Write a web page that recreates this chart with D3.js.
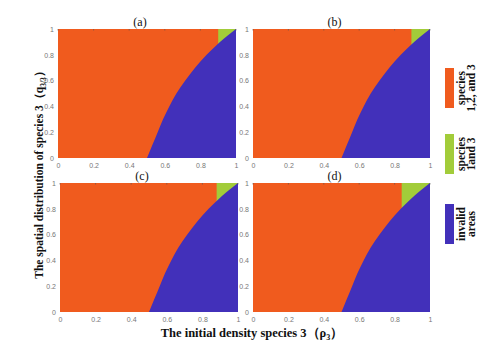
<!DOCTYPE html>
<html>
<head>
<meta charset="utf-8">
<script src="https://cdn.jsdelivr.net/npm/d3@7"></script>
<style>
  body { margin: 0; background: #fff; }
  svg { display: block; }
</style>
</head>
<body>
<div id="chart"></div>
<script>
// boundary between "species 1,2 and 3" and "invalid areas", read at q = 0, 0.1 ... 1
const boundaryQ = [0, 0.1, 0.2, 0.3, 0.4, 0.5, 0.6, 0.7, 0.8, 0.9, 1.0];
const boundaryRho = [0.50, 0.53, 0.56, 0.59, 0.625, 0.665, 0.715, 0.77, 0.835, 0.91, 1.0];

const panelNames = ["(a)", "(b)", "(c)", "(d)"];
// rho where the green "species 1 and 3" area starts in each panel
const greenStart = [0.90, 0.895, 0.88, 0.84];

const tickValues = [0, 0.2, 0.4, 0.6, 0.8, 1];
const legendLines = [["species", "1,2, and 3"], ["species", "1and 3"], ["invalid", "areas"]];

const colors = ["#F05B1E", "#A2CC3A", "#4230BA"];

const width = 497;
const height = 349;

// panel boxes
const panels = [
    { left: 58, right: 236, top: 29, bottom: 158 },
    { left: 253, right: 430, top: 29, bottom: 158 },
    { left: 60, right: 238, top: 183, bottom: 312 },
    { left: 253, right: 430, top: 183, bottom: 312 }
];

const svg = d3.select("#chart")
    .append("svg")
    .attr("width", width)
    .attr("height", height);

const boundary = boundaryQ.map((q, i) => ({ q: q, rho: boundaryRho[i] }));

panels.forEach((p, i) => {
    const x = d3.scaleLinear().domain([0, 1]).range([p.left, p.right]);
    const y = d3.scaleLinear().domain([0, 1]).range([p.bottom, p.top]);

    const g = svg.append("g");

    g.append("rect")
        .attr("x", x(0))
        .attr("y", y(1))
        .attr("width", x(1) - x(0))
        .attr("height", y(0) - y(1))
        .attr("fill", colors[0]);

    g.append("rect")
        .attr("x", x(greenStart[i]))
        .attr("y", y(1))
        .attr("width", x(1) - x(greenStart[i]))
        .attr("height", y(0) - y(1))
        .attr("fill", colors[1]);

    const area = d3.area()
        .y(d => y(d.q))
        .x0(d => x(d.rho))
        .x1(x(1))
        .curve(d3.curveMonotoneY);

    g.append("path")
        .datum(boundary)
        .attr("d", area)
        .attr("fill", colors[2]);

    const xAxis = g.append("g")
        .attr("transform", `translate(0, ${p.bottom})`)
        .call(d3.axisBottom(x).tickValues(tickValues).tickFormat(d3.format("~g")).tickSize(0).tickPadding(5));

    const yAxis = g.append("g")
        .attr("transform", `translate(${p.left}, 0)`)
        .call(d3.axisLeft(y).tickValues(tickValues).tickFormat(d3.format("~g")).tickSize(0).tickPadding(4));

    [xAxis, yAxis].forEach(a => {
        a.select(".domain").remove();
        a.selectAll("text")
            .attr("fill", "#777")
            .attr("font-size", "7px")
            .attr("font-family", "Liberation Sans, Arial, sans-serif");
    });

    // small inward tick marks along the top edge
    g.selectAll(".topTick")
        .data(tickValues)
        .enter()
        .append("line")
        .attr("x1", d => x(d))
        .attr("x2", d => x(d))
        .attr("y1", p.top)
        .attr("y2", p.top + 1.5)
        .attr("stroke", "#555")
        .attr("stroke-width", 0.6);

    g.append("text")
        .attr("x", (p.left + p.right) / 2 - 7)
        .attr("y", p.top - 3)
        .attr("text-anchor", "middle")
        .attr("font-family", "Liberation Serif, Times New Roman, serif")
        .attr("font-size", "12px")
        .attr("fill", "#111")
        .text(panelNames[i]);
});

// axis titles
svg.append("text")
    .attr("x", 252)
    .attr("y", 337)
    .attr("text-anchor", "middle")
    .attr("font-family", "Liberation Serif, Times New Roman, serif")
    .attr("font-weight", "bold")
    .attr("font-size", "12.5px")
    .attr("fill", "#111")
    .html("The initial density species 3\uFF08\u03C1<tspan font-size='8px' dy='3'>3</tspan><tspan dy='-3'>\uFF09</tspan>");

svg.append("text")
    .attr("transform", "translate(43, 172) rotate(-90)")
    .attr("text-anchor", "middle")
    .attr("font-family", "Liberation Serif, Times New Roman, serif")
    .attr("font-weight", "bold")
    .attr("font-size", "11.5px")
    .attr("fill", "#111")
    .html("The spatial distribution of species 3\uFF08q<tspan font-size='7.5px' dy='3'>3/3</tspan><tspan dy='-3'>\uFF09</tspan>");

// legend
const legendTops = [68, 134, 204];
legendTops.forEach((top, i) => {
    const h = 40;
    svg.append("rect")
        .attr("x", 445)
        .attr("y", top)
        .attr("width", 9)
        .attr("height", h)
        .attr("fill", colors[i]);

    const t = svg.append("text")
        .attr("transform", `translate(465, ${top + h / 2}) rotate(-90)`)
        .attr("text-anchor", "middle")
        .attr("font-family", "Liberation Serif, Times New Roman, serif")
        .attr("font-weight", "bold")
        .attr("font-size", "11.5px")
        .attr("fill", "#111");

    legendLines[i].forEach((line, j) => {
        t.append("tspan")
            .attr("x", 0)
            .attr("dy", j === 0 ? 0 : "0.85em")
            .text(line);
    });
});
</script>
</body>
</html>
